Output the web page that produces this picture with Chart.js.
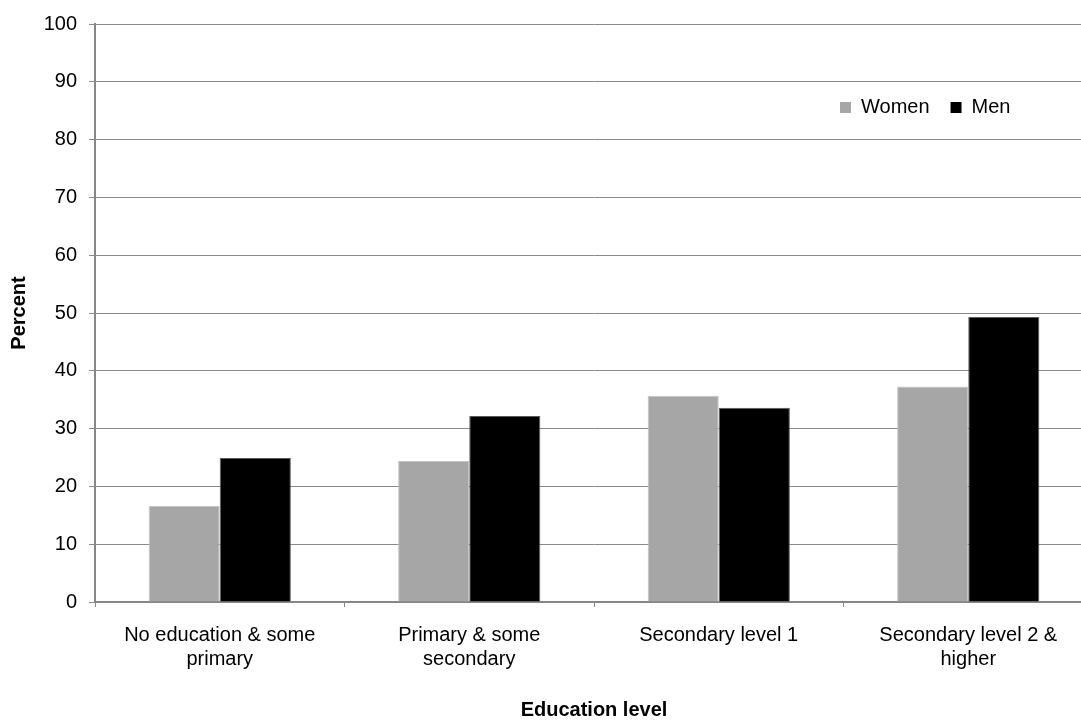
<!DOCTYPE html>
<html>
<head>
<meta charset="utf-8">
<script src="https://cdn.jsdelivr.net/npm/chart.js@4/dist/chart.umd.min.js"></script>
<style>
  html, body { margin: 0; padding: 0; background: #fff; overflow: hidden; }
  #wrap { position: relative; width: 1100px; height: 720px; }
</style>
</head>
<body>
<div id="wrap"><canvas id="eduChart"></canvas></div>
<script>
// education level groups (multi-line labels)
const categories = [
  ["No education & some", "primary"],
  ["Primary & some", "secondary"],
  "Secondary level 1",
  ["Secondary level 2 &", "higher"]
];
const seriesNames = ["Women", "Men"];
const womenValues = [16.6, 24.4, 35.7, 37.3];
const menValues = [24.9, 32.2, 33.6, 49.3];
const yTicks = { min: 0, max: 100, step: 10 };

const FONT = "'Liberation Sans', Arial, sans-serif";
const GRID = "#8a8a8a";

// legend sits inside the plot, upper right, and takes no layout space
const legendPlacer = {
  id: "legendPlacer",
  beforeLayout(chart) {
    const lg = chart.legend;
    if (lg && !lg._flatFit) {
      const fit = lg.fit;
      lg.fit = function () { fit.call(this); this.height = 0; };
      lg._flatFit = true;
    }
  },
  afterLayout(chart) {
    const lg = chart.legend;
    lg.left = chart.chartArea.right - 274;
    lg.right = lg.left + 320;
    lg.top = 76.5;
    lg.bottom = lg.top + 40;
  }
};

const ctx = document.getElementById("eduChart").getContext("2d");
const chart = new Chart(ctx, {
  type: "bar",
  data: {
    labels: categories,
    datasets: [
      { label: seriesNames[0], data: womenValues, backgroundColor: "#a6a6a6",
        borderColor: "#c4c4c4", borderWidth: 1 },
      { label: seriesNames[1], data: menValues, backgroundColor: "#000000",
        borderColor: "#5a5a5a", borderWidth: 1 }
    ]
  },
  options: {
    responsive: true,
    maintainAspectRatio: false,
    animation: false,
    layout: { padding: { top: 20, right: 7, left: 0, bottom: 0 } },
    datasets: { bar: { categoryPercentage: 0.57, barPercentage: 1.0 } },
    plugins: {
      tooltip: { enabled: false },
      legend: {
        position: "top",
        align: "start",
        labels: {
          boxWidth: 11,
          boxHeight: 11,
          padding: 21,
          color: "#000",
          font: { family: FONT, size: 20 },
          // plain filled squares, no outline
          generateLabels(chart) {
            return Chart.defaults.plugins.legend.labels.generateLabels(chart)
              .map(item => Object.assign(item, { lineWidth: 0 }));
          }
        }
      }
    },
    scales: {
      x: {
        grid: { display: true, drawOnChartArea: false, drawTicks: true, tickLength: 5, color: GRID },
        border: { display: true, color: "#868686", width: 2 },
        ticks: { color: "#000", padding: 16, maxRotation: 0, autoSkip: false,
                 font: { family: FONT, size: 20, lineHeight: 1.2 } },
        title: { display: true, text: "Education level", color: "#000",
                 padding: { top: 0, bottom: 0 },
                 font: { family: FONT, size: 20, weight: "bold", lineHeight: 1 } },
        afterFit(scale) { scale.height = 118; }
      },
      y: {
        min: yTicks.min,
        max: yTicks.max,
        grid: { color: GRID, lineWidth: 1, drawTicks: true, tickLength: 6 },
        border: { display: true, color: "#868686", width: 2 },
        ticks: { stepSize: yTicks.step, color: "#000", padding: 12,
                 font: { family: FONT, size: 20 } },
        title: { display: true, text: "Percent", color: "#000",
                 padding: { top: 9, bottom: 0 },
                 font: { family: FONT, size: 20, weight: "bold", lineHeight: 1 } },
        afterFit(scale) { scale.width = 95; }
      }
    }
  },
  plugins: [legendPlacer]
});
</script>
</body>
</html>
